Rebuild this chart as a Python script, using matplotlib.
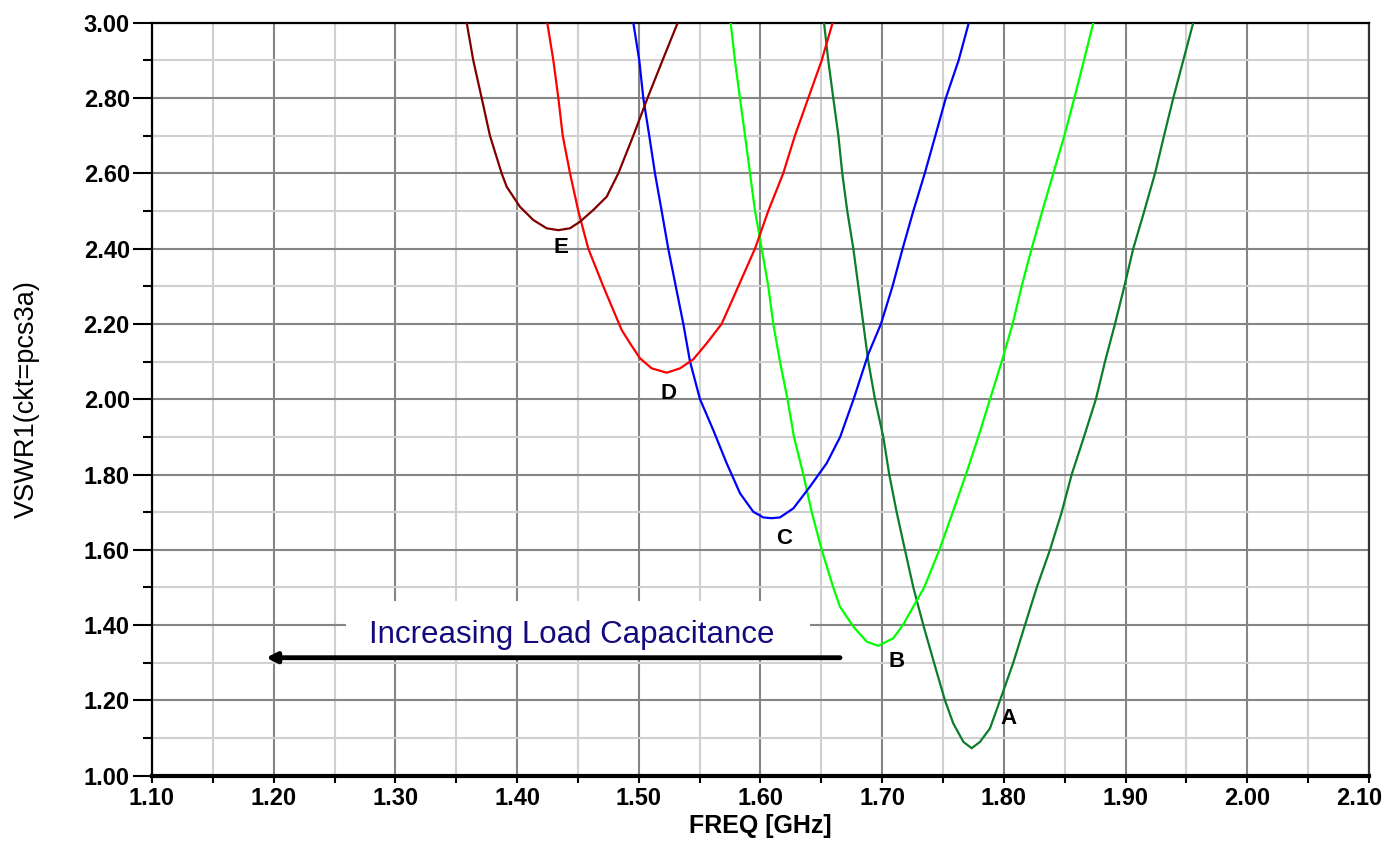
import matplotlib
matplotlib.use("Agg")
import matplotlib.pyplot as plt
from matplotlib.ticker import MultipleLocator, FormatStrFormatter
from matplotlib.patches import Rectangle
from matplotlib.transforms import ScaledTranslation

plt.rcParams['font.family'] = ['Liberation Sans', 'DejaVu Sans']

# VSWR sweeps for five load capacitance settings (A..E), freq [GHz] / VSWR
freq_a = [1.6522, 1.6557, 1.6598, 1.664, 1.6672, 1.6713, 1.6763, 1.6804, 1.6845, 1.6886,
          1.6941, 1.7009, 1.7058, 1.7119, 1.7187, 1.7256, 1.7338, 1.7426, 1.7516, 1.7584,
          1.7667, 1.7735, 1.7804, 1.7886, 1.7968, 1.8077, 1.8173, 1.827, 1.8379, 1.8475,
          1.8557, 1.8658, 1.8756, 1.8831, 1.8913, 1.899, 1.9063, 1.9154, 1.9242, 1.9316,
          1.9392, 1.9474, 1.9556]
vswr_a = [3.0, 2.9, 2.8, 2.7, 2.6, 2.5, 2.4, 2.3, 2.2, 2.1,
          2.0, 1.9, 1.8, 1.7, 1.6, 1.5, 1.4, 1.3, 1.2, 1.139,
          1.09, 1.073, 1.09, 1.126, 1.2, 1.3, 1.4, 1.5, 1.6, 1.7,
          1.8, 1.9, 2.0, 2.1, 2.2, 2.3, 2.4, 2.5, 2.6, 2.7,
          2.8, 2.9, 3.0]

freq_b = [1.5755, 1.579, 1.5831, 1.5873, 1.5914, 1.5955, 1.601, 1.6064, 1.6105, 1.616,
          1.6222, 1.6275, 1.6352, 1.6421, 1.6503, 1.6598, 1.6653, 1.6763, 1.6873, 1.6968,
          1.7091, 1.717, 1.7345, 1.747, 1.758, 1.7688, 1.779, 1.7886, 1.7982, 1.8072,
          1.8146, 1.8228, 1.8316, 1.8406, 1.8497, 1.8579, 1.8658, 1.8735]
vswr_b = [3.0, 2.9, 2.8, 2.7, 2.6, 2.5, 2.4, 2.3, 2.2, 2.1,
          2.0, 1.9, 1.8, 1.7, 1.6, 1.5, 1.449, 1.396, 1.356, 1.345,
          1.365, 1.4, 1.5, 1.6, 1.7, 1.8, 1.9, 2.0, 2.1, 2.2,
          2.3, 2.4, 2.5, 2.6, 2.7, 2.8, 2.9, 3.0]

freq_c = [1.4955, 1.5004, 1.5037, 1.5086, 1.5133, 1.5188, 1.5242, 1.5304, 1.5366, 1.5421,
          1.5503, 1.5612, 1.5722, 1.5832, 1.5941, 1.6023, 1.609, 1.616, 1.627, 1.6407,
          1.6544, 1.6655, 1.6765, 1.6886, 1.699, 1.7085, 1.7168, 1.7256, 1.735, 1.7437,
          1.7523, 1.7628, 1.7712]
vswr_c = [3.0, 2.9, 2.8, 2.7, 2.6, 2.5, 2.4, 2.3, 2.2, 2.1,
          2.0, 1.918, 1.83, 1.75, 1.701, 1.686, 1.684, 1.686, 1.71, 1.768,
          1.83, 1.9, 2.0, 2.12, 2.2, 2.3, 2.4, 2.5, 2.6, 2.7,
          2.8, 2.9, 3.0]

freq_d = [1.4248, 1.4298, 1.4339, 1.4375, 1.4435, 1.4503, 1.4585, 1.4708, 1.4859, 1.4928,
          1.501, 1.5106, 1.5229, 1.5339, 1.5448, 1.5558, 1.5681, 1.5818, 1.5955, 1.6064,
          1.6187, 1.6283, 1.6393, 1.6503, 1.6593]
vswr_d = [3.0, 2.9, 2.8, 2.7, 2.6, 2.5, 2.4, 2.3, 2.184, 2.1485,
          2.1086, 2.082, 2.0704, 2.082, 2.106, 2.1485, 2.2, 2.3, 2.4, 2.5,
          2.6, 2.7, 2.8, 2.9, 3.0]

freq_e = [1.3586, 1.364, 1.3709, 1.3777, 1.3873, 1.3915, 1.4024, 1.4133, 1.4243, 1.4339,
          1.4435, 1.4517, 1.4626, 1.4736, 1.4832, 1.4955, 1.5072, 1.5195, 1.532]
vswr_e = [3.0, 2.9, 2.8, 2.7, 2.6, 2.564, 2.511, 2.476, 2.454, 2.449,
          2.454, 2.4715, 2.5025, 2.5378, 2.6, 2.7, 2.8, 2.9, 3.0]

curve_names = ['A', 'B', 'C', 'D', 'E']
curve_colors = ['#0B7D2B', '#00FF00', '#0000FF', '#FF0000', '#800000']
# where each curve letter sits (freq, vswr)
label_pos = [(1.8036, 1.1525), (1.7119, 1.303), (1.6196, 1.631),
             (1.5243, 2.016), (1.4358, 2.403)]

fig = plt.figure(figsize=(13.88, 8.44), dpi=100)
ax = fig.add_axes([0.1095, 0.0809, 0.8768, 0.8922])

series = [(freq_a, vswr_a), (freq_b, vswr_b), (freq_c, vswr_c),
          (freq_d, vswr_d), (freq_e, vswr_e)]
for (f, v), col in zip(series, curve_colors):
    ax.plot(f, v, color=col, lw=1.6, zorder=3, solid_joinstyle='round')

for name, (lx, ly) in zip(curve_names, label_pos):
    ax.text(lx, ly, name, fontsize=16, fontweight='bold', ha='center', va='center',
            color='black', zorder=4)

ax.set_xlim(1.10, 2.10)
ax.set_ylim(1.00, 3.00)
ax.xaxis.set_major_locator(MultipleLocator(0.1))
ax.xaxis.set_minor_locator(MultipleLocator(0.05))
ax.yaxis.set_major_locator(MultipleLocator(0.2))
ax.yaxis.set_minor_locator(MultipleLocator(0.1))
ax.xaxis.set_major_formatter(FormatStrFormatter('%.2f'))
ax.yaxis.set_major_formatter(FormatStrFormatter('%.2f'))

ax.grid(which='major', color='#858585', lw=1.5, zorder=0)
ax.grid(which='minor', color='#d0d0d0', lw=1.5, zorder=0)
ax.set_axisbelow(True)

ax.tick_params(axis='y', which='major', length=14, width=1.5, pad=2, labelsize=17)
ax.tick_params(axis='y', which='minor', length=6.5, width=1.5)
ax.tick_params(axis='x', which='both', length=5, width=1.5, pad=3, labelsize=17)
for lab in ax.get_xticklabels() + ax.get_yticklabels():
    lab.set_fontweight('bold')

for side in ['left', 'top']:
    ax.spines[side].set_linewidth(1.6)
ax.spines['bottom'].set_linewidth(3)
ax.spines['right'].set_linewidth(1.6)
ax.spines['right'].set_color('#333333')

ax.set_xlabel('FREQ [GHz]', fontsize=18, fontweight='bold', labelpad=3)
ax.set_ylabel('VSWR1(ckt=pcs3a)', fontsize=19.5)
ax.yaxis.set_label_coords(-0.092, 0.5)

# white panel behind the caption, then the caption and the arrow
ax.add_patch(Rectangle((1.2594, 1.3185), 0.3813, 0.1461, facecolor='white',
                       edgecolor='none', zorder=2))
ax.text(1.4449, 1.3747, 'Increasing Load Capacitance', fontsize=22.5,
        color='#140A7D', ha='center', va='center', zorder=4)
ax.annotate('', xy=(1.1937, 1.3134), xytext=(1.6653, 1.3134),
            arrowprops=dict(arrowstyle='-|>,head_length=0.6,head_width=0.3',
                            color='black', lw=3.5, shrinkA=0, shrinkB=0),
            zorder=4)

# nudge the last x label ("2.10") inward so it stays on the canvas
fig.canvas.draw()
last = ax.xaxis.get_major_ticks()[-1].label1
for tick in ax.xaxis.get_major_ticks():
    if abs(tick.get_loc() - 2.10) < 1e-6:
        last = tick.label1
last.set_transform(last.get_transform() + ScaledTranslation(-10 / 100, 0, fig.dpi_scale_trans))

fig.savefig('out.png', dpi=100)
